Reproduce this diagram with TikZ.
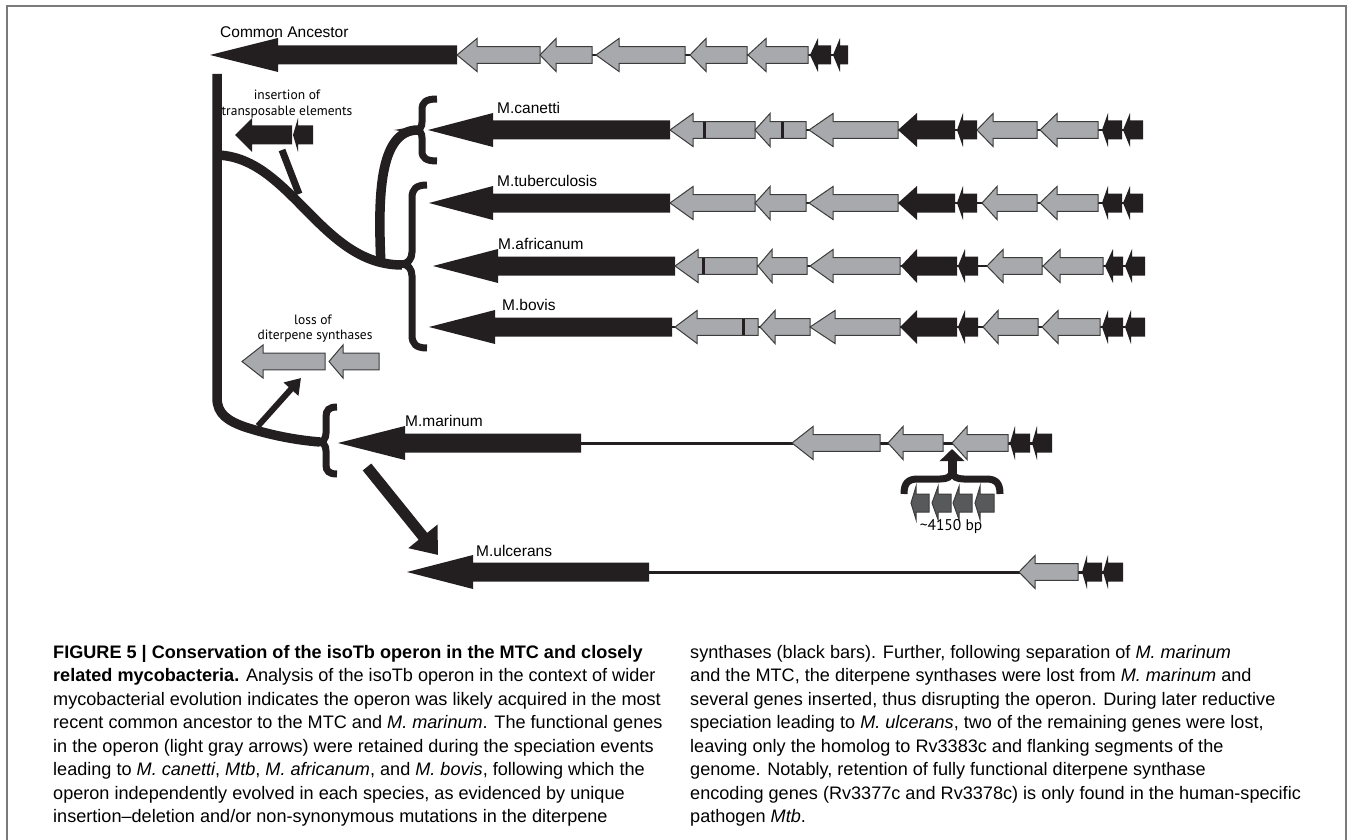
\documentclass[tikz,border=0pt]{standalone}
\usepackage{fontspec}
\setmainfont{Liberation Sans}
\newfontfamily\annf{PT Sans}
\usetikzlibrary{arrows.meta}
\definecolor{genegray}{HTML}{A7A9AC}
\definecolor{geneedge}{HTML}{3C3C3C}
\definecolor{geneblack}{HTML}{231F20}
\definecolor{genedark}{HTML}{58595B}
\definecolor{framec}{HTML}{7A7A7A}
\tikzset{
  gfill/.style={fill=genegray,draw=geneedge,line width=1pt,line join=miter},
  bfill/.style={fill=geneblack,draw=none},
  dfill/.style={fill=genedark,draw=geneedge,line width=1pt,line join=miter},
  link/.style={draw=geneblack,line width=2.5pt},
  mbar/.style={draw=geneblack,line width=3pt},
  tree/.style={draw=geneblack,line width=9.5pt},
  brace/.style={draw=geneblack,line width=7pt},
  lab/.style={inner sep=0pt,anchor=base west,font=\fontsize{15.5}{18}\selectfont},
  ann/.style={inner sep=0pt,font=\annf\fontsize{13.5}{16}\selectfont},
  capl/.style={inner sep=0pt,anchor=base west,font=\fontsize{18.1}{23.5}\selectfont},
}
\newcommand{\ggene}[4]{\filldraw[gfill] (#2,#1) -- (#3,#1-16.5) -- (#3,#1-8.3) -- (#4,#1-8.3) -- (#4,#1+8.3) -- (#3,#1+8.3) -- (#3,#1+16.5) -- cycle;}
\newcommand{\bgene}[4]{\fill[bfill] (#2,#1) -- (#3,#1-17) -- (#3,#1-9.5) -- (#4,#1-9.5) -- (#4,#1+9.5) -- (#3,#1+9.5) -- (#3,#1+17) -- cycle;}
\newcommand{\dgene}[4]{\filldraw[dfill] (#2,#1) -- (#3,#1-16.5) -- (#3,#1-9) -- (#4,#1-9) -- (#4,#1+9) -- (#3,#1+9) -- (#3,#1+16.5) -- cycle;}
\newcommand{\gbar}[2]{\draw[mbar] (#2,#1-8.3) -- (#2,#1+8.3);}
\begin{document}
\begin{tikzpicture}[x=1pt,y=-1pt]
\useasboundingbox (0,0) rectangle (1349,840);
\draw[framec,line width=2pt] (7,840) -- (7,6) -- (1346,6) -- (1346,840);

% ---------- Common ancestor ----------
\draw[link] (457,55) -- (848,55);
\bgene{55}{210}{278}{457}
\ggene{55}{457}{477}{540}
\ggene{55}{540}{556}{592}
\ggene{55}{596}{619}{685}
\ggene{55}{690}{706}{747}
\ggene{55}{748}{766}{808}
\bgene{55}{810}{818}{831}
\bgene{55}{833}{840}{848}
\node[lab] (lca) at (220,38) {Common Ancestor};

% ---------- M.canetti ----------
\draw[link] (670,130) -- (1143,130);
\bgene{130}{428}{493}{670}
\ggene{130}{670}{693}{755}\gbar{130}{704}
\ggene{130}{755}{770}{806}\gbar{130}{782}
\ggene{130}{809}{833}{898}
\bgene{130}{898}{917}{955}
\bgene{130}{957}{963}{977}
\ggene{130}{977}{993}{1037}
\ggene{130}{1040}{1057}{1098}
\bgene{130}{1102}{1108}{1122}
\bgene{130}{1123}{1130}{1143}
\node[lab] (lcan) at (497,113.5) {M.canetti};

% ---------- M.tuberculosis ----------
\draw[link] (670,203) -- (1143,203);
\bgene{203}{429}{493}{670}
\ggene{203}{670}{693}{755}
\ggene{203}{755}{770}{806}
\ggene{203}{809}{833}{898}
\bgene{203}{898}{917}{955}
\bgene{203}{957}{963}{977}
\ggene{203}{982}{997}{1037}
\ggene{203}{1040}{1057}{1098}
\bgene{203}{1102}{1108}{1122}
\bgene{203}{1123}{1130}{1143}
\node[lab] (ltub) at (497,186.5) {M.tuberculosis};

% ---------- M.africanum ----------
\draw[link] (675,266) -- (1145,266);
\bgene{266}{433}{498}{675}
\ggene{266}{675}{698}{757}\gbar{266}{703}
\ggene{266}{758}{772}{807}
\ggene{266}{810}{833}{900}
\bgene{266}{901}{917}{957}
\bgene{266}{958}{965}{978}
\ggene{266}{987}{1003}{1042}
\ggene{266}{1043}{1060}{1103}
\bgene{266}{1105}{1113}{1123}
\bgene{266}{1125}{1132}{1145}
\node[lab] (lafr) at (498,249) {M.africanum};

% ---------- M.bovis ----------
\draw[link] (672,327) -- (1145,327);
\bgene{327}{429}{495}{672}
\ggene{327}{675}{697}{758}\gbar{327}{743}
\ggene{327}{760}{775}{810}
\ggene{327}{810}{835}{900}
\bgene{327}{900}{917}{957}
\bgene{327}{958}{965}{978}
\ggene{327}{983}{998}{1038}
\ggene{327}{1042}{1058}{1100}
\bgene{327}{1102}{1108}{1123}
\bgene{327}{1125}{1131}{1145}
\node[lab] (lbov) at (502,310) {M.bovis};

% ---------- M.marinum ----------
\draw[link,line width=3pt] (581,443) -- (1052,443);
\bgene{443}{338}{405}{581}
\ggene{443}{792}{813}{880}
\ggene{443}{888}{903}{943}
\ggene{443}{952}{967}{1008}
\bgene{443}{1010}{1015}{1030}
\bgene{443}{1032}{1037}{1052}
\node[lab] (lmar) at (405,426.5) {M.marinum};
% inserted genes
\dgene{503}{911}{916}{929}
\dgene{503}{932}{938}{951}
\dgene{503}{953}{959}{972}
\dgene{503}{975}{980}{994}
\draw[brace] (904,494) .. controls (904,483) and (908,479) .. (918,479) -- (940,479) .. controls (947,479) and (951,477) .. (952,472) .. controls (953,477) and (957,479) .. (964,479) -- (986,479) .. controls (996,479) and (1000,483) .. (1000,494);
\coordinate (insb) at (952,475);
\coordinate (inst) at (952,449);
\draw[geneblack,line width=9pt,-{Triangle[length=12pt,width=24pt]}] (insb) -- (inst);
\node[ann,font=\annf\fontsize{15.5}{18}\selectfont] (lbp) at (951,527) {\textasciitilde4150 bp};

% ---------- M.ulcerans ----------
\draw[link,line width=3pt] (649,572) -- (1123,572);
\bgene{572}{407}{473}{649}
\ggene{572}{1019}{1035}{1078}
\bgene{572}{1082}{1087}{1102}
\bgene{572}{1103}{1108}{1123}
\node[lab] (lulc) at (476,556) {M.ulcerans};

% ---------- tree ----------
\draw[tree,line cap=butt] (217,74) -- (217,398) .. controls (217,414) and (228,421) .. (245,427) .. controls (270,435) and (295,440) .. (320,442);
\draw[tree] (215,155) .. controls (290,155) and (320,265) .. (402,265);
\draw[tree] (381,266) .. controls (378,200) and (378,130) .. (418,130);
\draw[brace] (437,99) .. controls (426,99) and (422,102) .. (422,110) -- (422,122) .. controls (422,127) and (420,130) .. (415,130) .. controls (420,130) and (422,133) .. (422,138) -- (422,151) .. controls (422,158) and (426,161) .. (437,161);
\draw[brace] (427,185) .. controls (416,185) and (412,189) .. (412,198) -- (412,252) .. controls (412,259) and (408,264) .. (401,264) .. controls (408,264) and (412,269) .. (412,276) -- (412,335) .. controls (412,344) and (416,348) .. (427,348);
\draw[brace] (337,407) .. controls (329,407) and (326,410) .. (326,417) -- (326,433) .. controls (326,439) and (323,442) .. (318,442) .. controls (323,442) and (326,445) .. (326,451) -- (326,465) .. controls (326,471) and (329,474) .. (337,474);

% insertion of transposable elements
\bgene{135}{235}{252}{292}
\bgene{135}{293}{298}{313}
\draw[geneblack,line width=7pt] (299,194) -- (282,150);
\node[ann] (lins1) at (287,95) {insertion of};
\node[ann] (lins2) at (287,112) {transposable elements};

% loss of diterpene synthases
\ggene{361.5}{242}{263}{325}
\ggene{361.5}{329}{343}{379}
\node[ann] (lloss1) at (313,320) {loss of};
\node[ann] (lloss2) at (315,336) {diterpene synthases};
\coordinate (lossb) at (258,426);
\coordinate (losst) at (301,378);
\draw[geneblack,line width=6pt,-{Triangle[length=15pt,width=19pt]}] (lossb) -- (losst);

% to M.ulcerans
\coordinate (ulcb) at (367,467);
\coordinate (ulct) at (438,555);
\draw[geneblack,line width=11pt,-{Triangle[length=24pt,width=36pt]}] (ulcb) -- (ulct);

% ---------- caption ----------
\node[capl] (cl1) at (53,658) {\textbf{FIGURE 5 | Conservation of the isoTb operon in the MTC and closely}};
\node[capl] (cl2) at (53,681.5) {\textbf{related mycobacteria.} Analysis of the isoTb operon in the context of wider};
\node[capl] (cl3) at (53,705) {mycobacterial evolution indicates the operon was likely acquired in the most};
\node[capl] (cl4) at (53,728.5) {recent common ancestor to the MTC and \textit{M. marinum}. The functional genes};
\node[capl] (cl5) at (53,752) {in the operon (light gray arrows) were retained during the speciation events};
\node[capl] (cl6) at (53,775.5) {leading to \textit{M. canetti}, \textit{Mtb}, \textit{M. africanum}, and \textit{M. bovis}, following which the};
\node[capl] (cl7) at (53,799) {operon independently evolved in each species, as evidenced by unique};
\node[capl] (cl8) at (53,822.5) {insertion–deletion and/or non-synonymous mutations in the diterpene};
\node[capl] (cr1) at (690,658) {synthases (black bars). Further, following separation of \textit{M. marinum}};
\node[capl] (cr2) at (690,681.5) {and the MTC, the diterpene synthases were lost from \textit{M. marinum} and};
\node[capl] (cr3) at (690,705) {several genes inserted, thus disrupting the operon. During later reductive};
\node[capl] (cr4) at (690,728.5) {speciation leading to \textit{M. ulcerans}, two of the remaining genes were lost,};
\node[capl] (cr5) at (690,752) {leaving only the homolog to Rv3383c and flanking segments of the};
\node[capl] (cr6) at (690,775.5) {genome. Notably, retention of fully functional diterpene synthase};
\node[capl] (cr7) at (690,799) {encoding genes (Rv3377c and Rv3378c) is only found in the human-specific};
\node[capl] (cr8) at (690,822.5) {pathogen \textit{Mtb}.};
\end{tikzpicture}
\end{document}
